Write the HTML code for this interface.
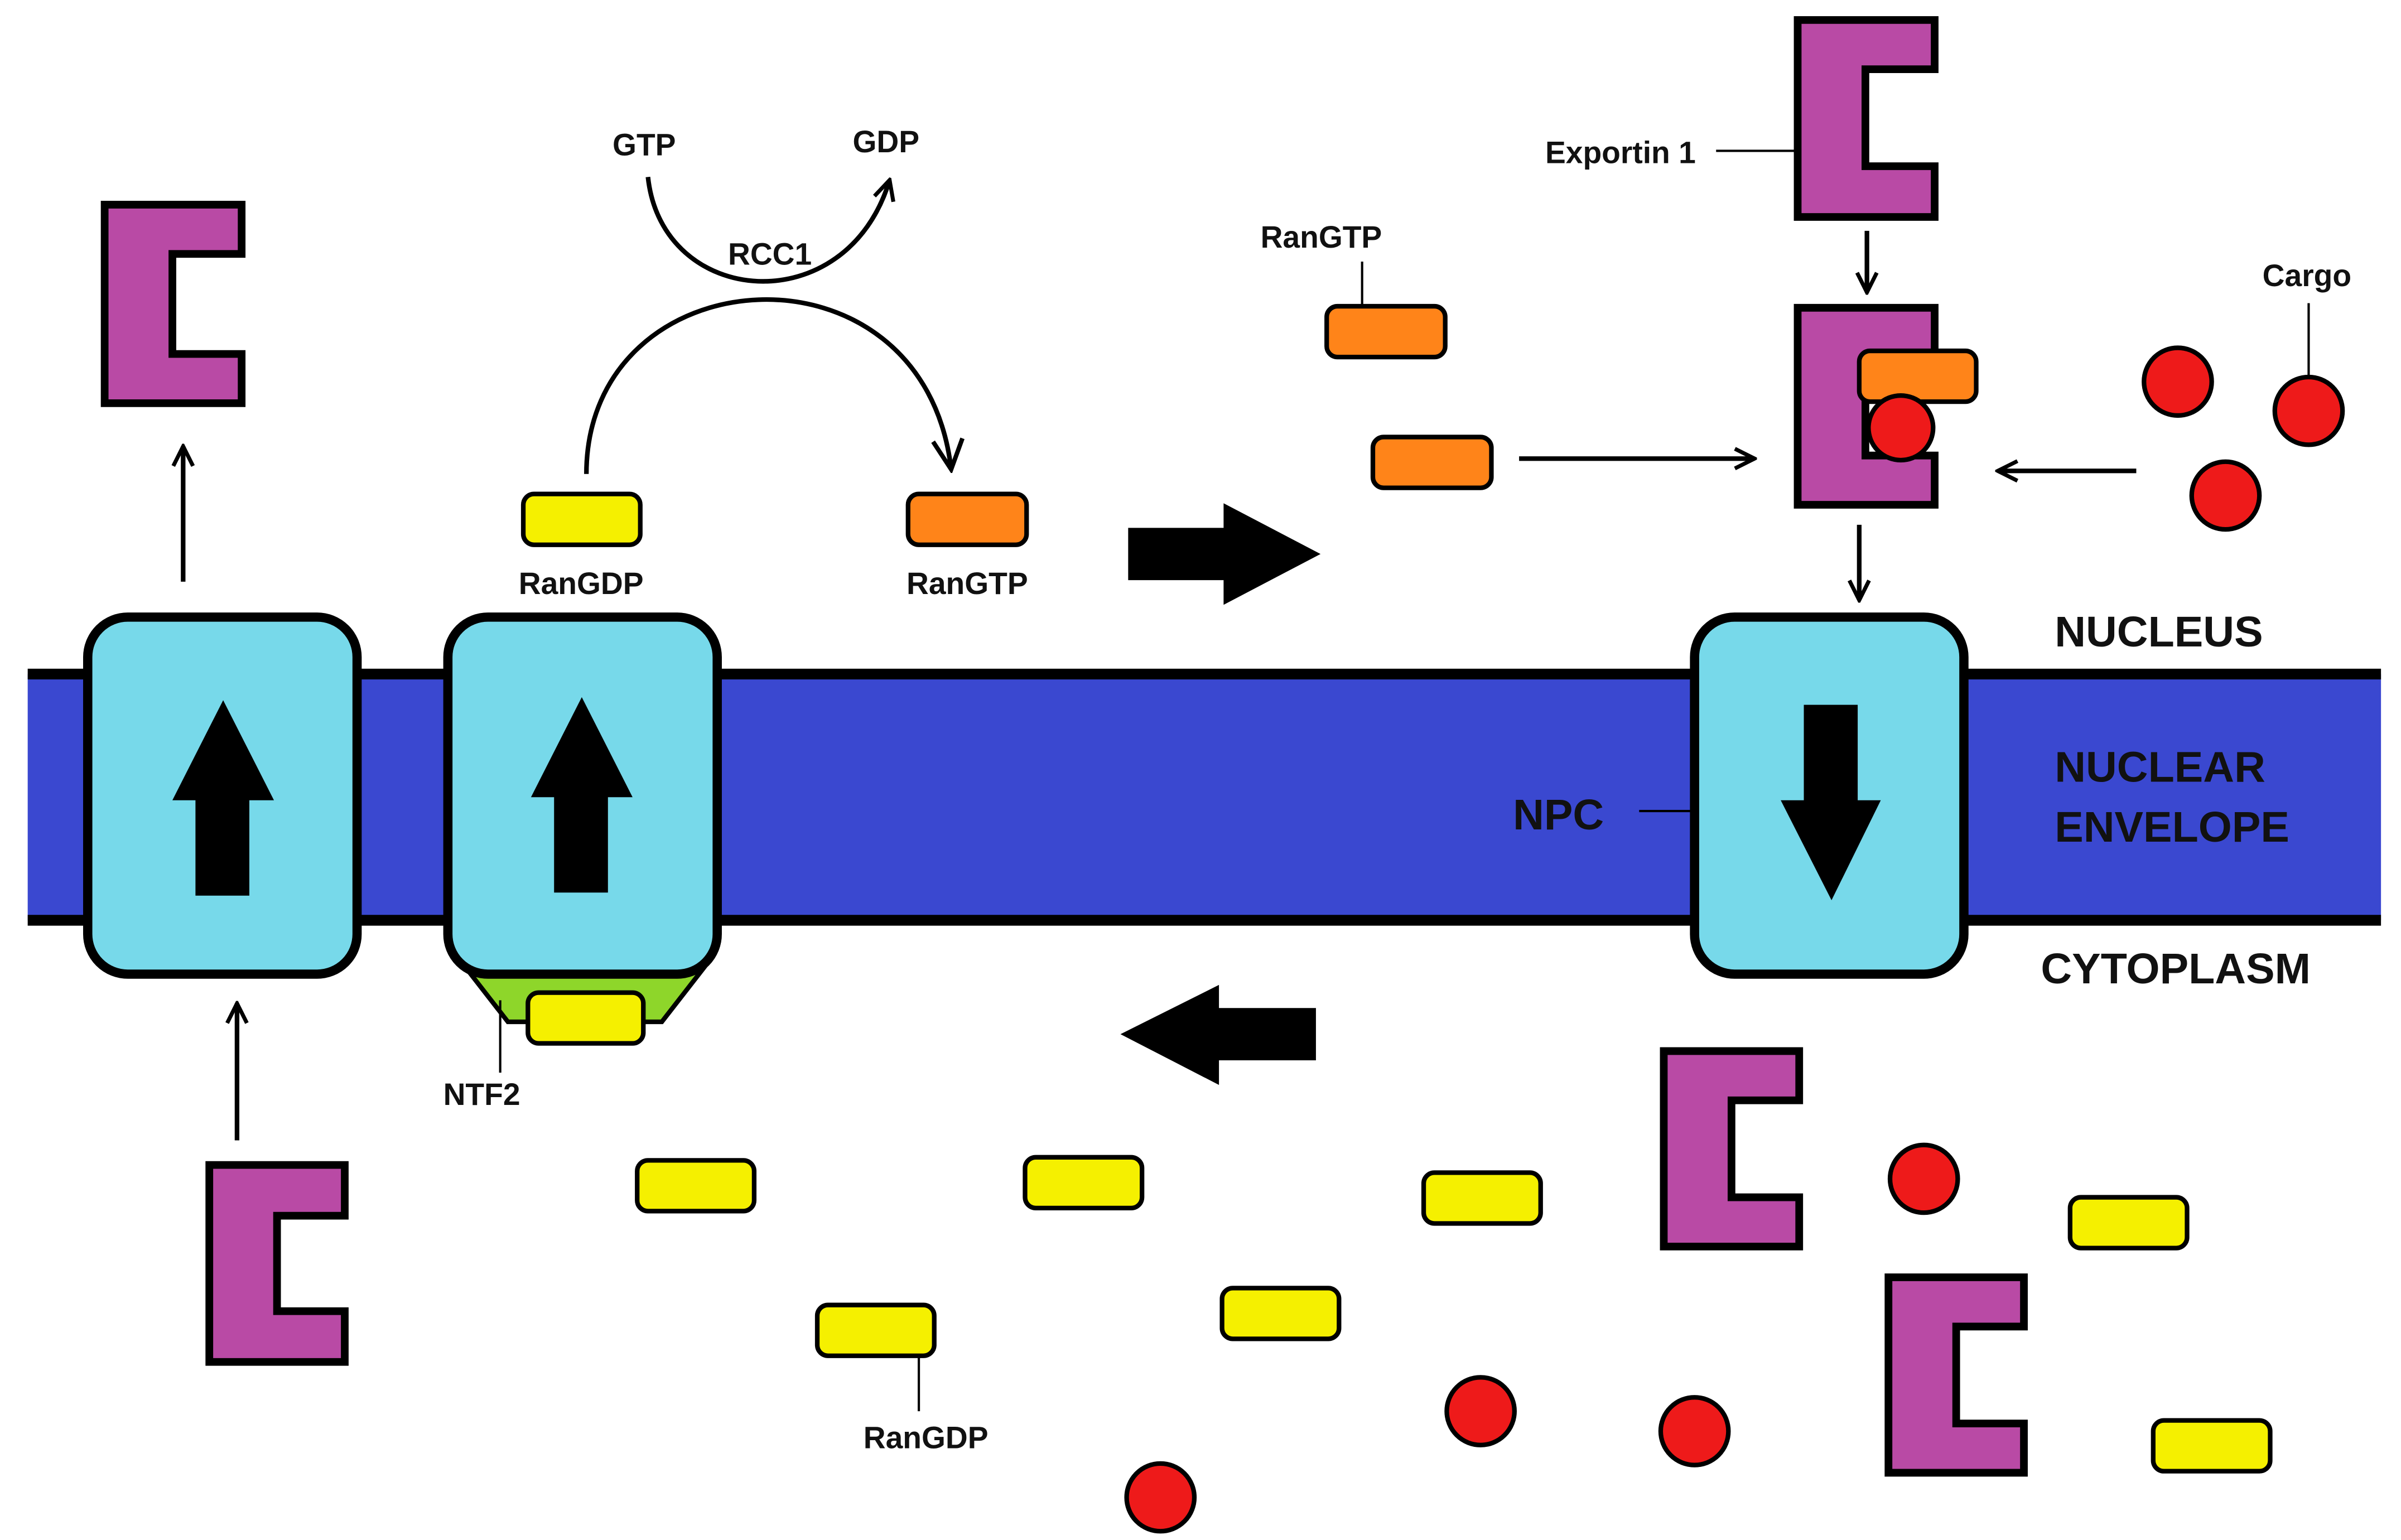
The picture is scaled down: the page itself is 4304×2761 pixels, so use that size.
<!DOCTYPE html>
<html><head><meta charset="utf-8"><style>
html,body{margin:0;padding:0;background:#fff}
svg{display:block}
text{font-family:"Liberation Sans",sans-serif;font-weight:bold;fill:#111}
</style></head><body>
<svg width="4304" height="2761" viewBox="0 0 1560 1000.7" preserveAspectRatio="none" xmlns="http://www.w3.org/2000/svg">
<defs>
<marker id="ah" viewBox="0 0 10 10" refX="9" refY="5" markerWidth="16" markerHeight="16" orient="auto" markerUnits="userSpaceOnUse">
<path d="M1,1 L9,5 L1,9" fill="none" stroke="#000" stroke-width="1.6"/></marker>
<marker id="ah2" viewBox="0 0 10 10" refX="9" refY="5" markerWidth="24" markerHeight="24" orient="auto" markerUnits="userSpaceOnUse">
<path d="M1,1 L9,5 L1,9" fill="none" stroke="#000" stroke-width="1.2"/></marker>
</defs>
<rect width="1560" height="1001" fill="#fff"/>
<rect x="18" y="438" width="1529" height="160" fill="#3a48d0"/>
<line x1="18" y1="438" x2="1547" y2="438" stroke="#000" stroke-width="7"/>
<line x1="18" y1="598" x2="1547" y2="598" stroke="#000" stroke-width="7"/>
<path d="M302,628 L458,628 L430,664 L330,664 Z" fill="#8ed62a" stroke="#000" stroke-width="3"/>
<g fill="#77d9ea" stroke="#000" stroke-width="6">
<rect x="57" y="401" width="175" height="232" rx="26"/>
<rect x="291" y="401" width="175" height="232" rx="26"/>
<rect x="1101" y="401" width="175" height="232" rx="26"/>
</g>
<rect x="343" y="645" width="75" height="33" rx="7" fill="#f5f000" stroke="#000" stroke-width="3"/>
<g fill="#000">
<path d="M145,455 L178,520 L162,520 L162,582 L127,582 L127,520 L112,520 Z"/>
<path d="M378,453 L411,518 L395,518 L395,580 L360,580 L360,518 L345,518 Z"/>
<path d="M1172,458 L1207,458 L1207,520 L1222,520 L1190,585 L1157,520 L1172,520 Z"/>
<path d="M733,343 L795,343 L795,327 L858,360 L795,393 L795,377 L733,377 Z"/>
<path d="M855,655 L792,655 L792,640 L728,672 L792,705 L792,689 L855,689 Z"/>
</g>
<g fill="#b94aa5" stroke="#000" stroke-width="5">
<path d="M68,133 H157 V165 H112 V230 H157 V262 H68 Z"/>
<path d="M1168,13 H1257 V45 H1212 V108 H1257 V141 H1168 Z"/>
<path d="M1168,200 H1257 V232 H1212 V296 H1257 V328 H1168 Z"/>
<path d="M136,757 H224 V790 H180 V852 H224 V885 H136 Z"/>
<path d="M1081,683 H1169 V715 H1125 V778 H1169 V810 H1081 Z"/>
<path d="M1227,830 H1315 V862 H1271 V925 H1315 V957 H1227 Z"/>
</g>
<g fill="#ff8419" stroke="#000" stroke-width="3">
<rect x="862" y="199" width="77" height="33" rx="7"/>
<rect x="892" y="284" width="77" height="33" rx="7"/>
<rect x="590" y="321" width="77" height="33" rx="7"/>
<rect x="1208" y="228" width="76" height="33" rx="7"/>
</g>
<g fill="#f5f000" stroke="#000" stroke-width="3">
<rect x="340" y="321" width="76" height="33" rx="7"/>
<rect x="414" y="754" width="76" height="33" rx="7"/>
<rect x="666" y="752" width="76" height="33" rx="7"/>
<rect x="925" y="762" width="76" height="33" rx="7"/>
<rect x="1345" y="778" width="76" height="33" rx="7"/>
<rect x="531" y="848" width="76" height="33" rx="7"/>
<rect x="794" y="837" width="76" height="33" rx="7"/>
<rect x="1399" y="923" width="76" height="33" rx="7"/>
</g>
<g fill="#ee1a1a" stroke="#000" stroke-width="3">
<circle cx="1235" cy="278" r="21"/>
<circle cx="1415" cy="248" r="22"/>
<circle cx="1500" cy="267" r="22"/>
<circle cx="1446" cy="322" r="22"/>
<circle cx="1250" cy="766" r="22"/>
<circle cx="962" cy="917" r="22"/>
<circle cx="1101" cy="930" r="22"/>
<circle cx="754" cy="973" r="22"/>
</g>
<g stroke="#000" stroke-width="3" fill="none">
<line x1="119" y1="378" x2="119" y2="290" marker-end="url(#ah)"/>
<line x1="154" y1="741" x2="154" y2="652" marker-end="url(#ah)"/>
<line x1="1213" y1="150" x2="1213" y2="190" marker-end="url(#ah)"/>
<line x1="1208" y1="341" x2="1208" y2="390" marker-end="url(#ah)"/>
<line x1="987" y1="298" x2="1140" y2="298" marker-end="url(#ah)"/>
<line x1="1388" y1="306" x2="1298" y2="306" marker-end="url(#ah)"/>
<path d="M381,308 C381,165 600,150 618,305" marker-end="url(#ah2)"/>
<path d="M421,115 C430,200 550,210 578,117" marker-end="url(#ah)"/>
</g>
<g stroke="#000" stroke-width="1.5">
<line x1="1115" y1="98" x2="1168" y2="98"/>
<line x1="885" y1="170" x2="885" y2="199"/>
<line x1="1500" y1="197" x2="1500" y2="245"/>
<line x1="1065" y1="527" x2="1101" y2="527"/>
<line x1="325" y1="650" x2="325" y2="697"/>
<line x1="597" y1="881" x2="597" y2="917"/>
</g>
<g font-size="20">
<text x="398" y="101">GTP</text>
<text x="554" y="99">GDP</text>
<text x="473" y="172">RCC1</text>
<text x="337" y="386">RanGDP</text>
<text x="589" y="386">RanGTP</text>
<text x="819" y="161">RanGTP</text>
<text x="1004" y="106">Exportin 1</text>
<text x="1470" y="186">Cargo</text>
<text x="288" y="718">NTF2</text>
<text x="561" y="941">RanGDP</text>
</g>
<g font-size="28">
<text x="1335" y="420">NUCLEUS</text>
<text x="1335" y="508">NUCLEAR</text>
<text x="1335" y="547">ENVELOPE</text>
<text x="1326" y="639">CYTOPLASM</text>
<text x="983" y="539">NPC</text>
</g>
</svg>
</body></html>
